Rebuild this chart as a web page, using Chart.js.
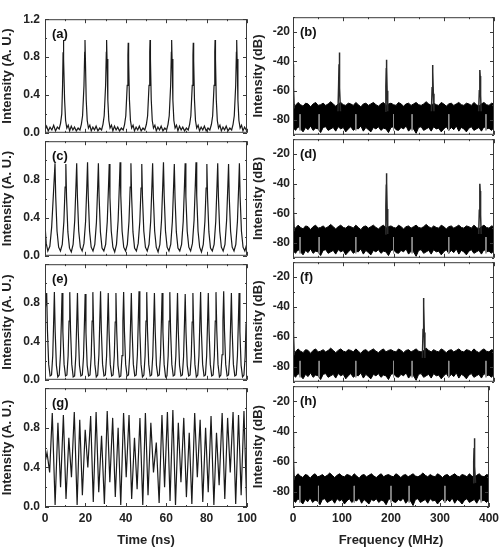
<!DOCTYPE html>
<html>
<head>
<meta charset="utf-8">
<script src="https://cdn.jsdelivr.net/npm/chart.js@4.4.1/dist/chart.umd.min.js"></script>
<style>
  html, body { margin: 0; padding: 0; background: #fff; }
  body { width: 503px; height: 550px; position: relative; overflow: hidden; }
  canvas.panel { position: absolute; }
</style>
</head>
<body>
<script>
// ---- time traces, [time (ns), intensity (a.u.)] ----
const aPulses = [
  [0,0.03],[0.8,0.07],[1.6,0.02],[2.5,0.06],[3.4,0.03],[4.3,0.08],[5.2,0.02],[6.1,0.06],[7.0,0.04],[7.7,0.1],[8.3,0.2],[8.7,0.5],[8.95,0.85],[9.1,0.98],[9.3,0.78],[9.7,0.35],[10.2,0.13],
  [10.8,0.05],[11.5,0.08],[12.2,0.02],[13.0,0.07],[13.8,0.03],[14.6,0.06],[15.5,0.02],[16.4,0.05],[17.3,0.03],[18.0,0.09],[18.6,0.18],[19.3,0.5],[19.65,0.85],[19.8,0.98],[20.0,0.78],[20.4,0.35],[20.9,0.13],
  [21.5,0.05],[22.2,0.08],[22.9,0.02],[23.7,0.06],[24.5,0.03],[25.3,0.07],[26.2,0.02],[27.1,0.05],[28.0,0.03],[28.7,0.09],[29.3,0.18],[30.0,0.5],[30.35,0.85],[30.5,0.98],[30.7,0.78],[31.1,0.35],[31.6,0.13],
  [32.2,0.05],[32.9,0.08],[33.6,0.02],[34.4,0.07],[35.2,0.03],[36.0,0.06],[36.9,0.02],[37.8,0.05],[38.7,0.03],[39.4,0.09],[40.0,0.18],[40.7,0.5],[41.05,0.82],[41.2,0.95],[41.4,0.76],[41.8,0.35],[42.3,0.13],
  [42.9,0.05],[43.6,0.08],[44.3,0.02],[45.1,0.06],[45.9,0.03],[46.7,0.07],[47.6,0.02],[48.5,0.05],[49.4,0.03],[50.2,0.09],[50.8,0.18],[51.5,0.5],[51.85,0.85],[52.0,0.98],[52.2,0.78],[52.6,0.35],[53.1,0.13],
  [53.7,0.05],[54.4,0.08],[55.1,0.02],[55.9,0.06],[56.7,0.03],[57.5,0.07],[58.4,0.02],[59.3,0.05],[60.2,0.03],[60.9,0.09],[61.5,0.18],[62.2,0.5],[62.55,0.85],[62.7,0.98],[62.9,0.78],[63.3,0.35],[63.8,0.13],
  [64.4,0.05],[65.1,0.08],[65.8,0.02],[66.6,0.07],[67.4,0.03],[68.2,0.06],[69.1,0.02],[70.0,0.05],[70.9,0.03],[71.6,0.09],[72.2,0.18],[72.9,0.5],[73.25,0.82],[73.4,0.95],[73.6,0.76],[74.0,0.35],[74.5,0.13],
  [75.1,0.05],[75.8,0.08],[76.5,0.02],[77.3,0.06],[78.1,0.03],[78.9,0.07],[79.8,0.02],[80.7,0.05],[81.6,0.03],[82.4,0.09],[83.0,0.18],[83.7,0.5],[84.05,0.85],[84.2,0.98],[84.4,0.78],[84.8,0.35],[85.3,0.13],
  [85.9,0.05],[86.6,0.08],[87.3,0.02],[88.1,0.06],[88.9,0.03],[89.7,0.07],[90.6,0.02],[91.5,0.05],[92.4,0.03],[93.1,0.09],[93.7,0.18],[94.4,0.5],[94.75,0.85],[94.9,0.98],[95.1,0.78],[95.5,0.35],[96.0,0.13],
  [96.6,0.05],[97.3,0.08],[98.0,0.02],[98.8,0.06],[99.6,0.03],[100,0.05]
];

const cPulses = [
  [0,0.33],[0.6,0.13],[1.4,0.05],[2.4,0.1],[3.3,0.3],[4.2,0.66],[4.95,0.97],
  [5.30,0.62],[5.95,0.26],[6.75,0.09],[7.65,0.05],[8.55,0.12],[9.35,0.36],[9.95,0.72],[10.32,0.96],
  [10.67,0.61],[11.32,0.25],[12.12,0.08],[13.02,0.04],[13.92,0.12],[14.72,0.37],[15.32,0.73],[15.69,0.97],
  [16.04,0.62],[16.69,0.26],[17.49,0.09],[18.39,0.05],[19.29,0.13],[20.09,0.36],[20.69,0.72],[21.06,0.98],
  [21.41,0.63],[22.06,0.26],[22.86,0.09],[23.76,0.05],[24.66,0.12],[25.46,0.35],[26.06,0.71],[26.43,0.97],
  [26.78,0.62],[27.43,0.25],[28.23,0.08],[29.13,0.05],[30.03,0.12],[30.83,0.36],[31.43,0.72],[31.80,0.96],
  [32.15,0.61],[32.80,0.26],[33.60,0.09],[34.50,0.04],[35.40,0.12],[36.20,0.37],[36.80,0.73],[37.17,0.98],
  [37.52,0.63],[38.17,0.26],[38.97,0.09],[39.87,0.05],[40.77,0.12],[41.57,0.36],[42.17,0.72],[42.54,0.97],
  [42.89,0.62],[43.54,0.25],[44.34,0.08],[45.24,0.05],[46.14,0.13],[46.94,0.36],[47.54,0.71],[47.91,0.96],
  [48.26,0.61],[48.91,0.26],[49.71,0.09],[50.61,0.05],[51.51,0.12],[52.31,0.36],[52.91,0.72],[53.28,0.97],
  [53.63,0.62],[54.28,0.26],[55.08,0.09],[55.98,0.04],[56.88,0.12],[57.68,0.37],[58.28,0.73],[58.65,0.98],
  [59.00,0.63],[59.65,0.26],[60.45,0.09],[61.35,0.05],[62.25,0.12],[63.05,0.36],[63.65,0.72],[64.02,0.96],
  [64.37,0.61],[65.02,0.25],[65.82,0.08],[66.72,0.05],[67.62,0.12],[68.42,0.36],[69.02,0.72],[69.39,0.97],
  [69.74,0.62],[70.39,0.26],[71.19,0.09],[72.09,0.05],[72.99,0.13],[73.79,0.37],[74.39,0.73],[74.76,0.98],
  [75.11,0.63],[75.76,0.26],[76.56,0.09],[77.46,0.04],[78.36,0.12],[79.16,0.36],[79.76,0.71],[80.13,0.96],
  [80.48,0.61],[81.13,0.25],[81.93,0.08],[82.83,0.05],[83.73,0.12],[84.53,0.36],[85.13,0.72],[85.50,0.97],
  [85.85,0.62],[86.50,0.26],[87.30,0.09],[88.20,0.05],[89.10,0.12],[89.90,0.37],[90.50,0.72],[90.87,0.96],
  [91.22,0.61],[91.87,0.26],[92.67,0.09],[93.57,0.05],[94.47,0.12],[95.27,0.36],[95.87,0.72],[96.24,0.97],
  [96.59,0.62],[97.24,0.26],[98.04,0.09],[98.94,0.05],[99.84,0.12],[100,0.14]
];

const ePulses = [
  [0,0.7],[0.83,0.9],
  [1.23,0.5],[1.83,0.16],[2.53,0.04],[3.23,0.05],[3.83,0.25],[4.28,0.6],[4.64,0.91],
  [5.04,0.5],[5.64,0.15],[6.34,0.03],[7.04,0.05],[7.64,0.26],[8.09,0.6],[8.45,0.9],
  [8.85,0.5],[9.45,0.16],[10.15,0.04],[10.85,0.05],[11.45,0.25],[11.90,0.61],[12.26,0.91],
  [12.66,0.51],[13.26,0.16],[13.96,0.03],[14.66,0.04],[15.26,0.25],[15.71,0.6],[16.07,0.9],
  [16.47,0.5],[17.07,0.15],[17.77,0.04],[18.47,0.05],[19.07,0.24],[19.52,0.59],[19.88,0.89],
  [20.28,0.49],[20.88,0.15],[21.58,0.04],[22.28,0.05],[22.88,0.25],[23.33,0.61],[23.69,0.91],
  [24.09,0.51],[24.69,0.16],[25.39,0.03],[26.09,0.05],[26.69,0.26],[27.14,0.62],[27.50,0.92],
  [27.90,0.51],[28.50,0.16],[29.20,0.04],[29.90,0.05],[30.50,0.25],[30.95,0.6],[31.31,0.9],
  [31.71,0.5],[32.31,0.16],[33.01,0.04],[33.71,0.05],[34.31,0.25],[34.76,0.6],[35.12,0.9],
  [35.52,0.5],[36.12,0.15],[36.82,0.03],[37.52,0.04],[38.12,0.25],[38.57,0.61],[38.93,0.91],
  [39.33,0.5],[39.93,0.16],[40.63,0.04],[41.33,0.05],[41.93,0.25],[42.38,0.6],[42.74,0.9],
  [43.14,0.5],[43.74,0.16],[44.44,0.04],[45.14,0.05],[45.74,0.26],[46.19,0.62],[46.55,0.92],
  [46.95,0.51],[47.55,0.16],[48.25,0.03],[48.95,0.05],[49.55,0.25],[50.00,0.61],[50.36,0.91],
  [50.76,0.5],[51.36,0.16],[52.06,0.04],[52.76,0.05],[53.36,0.25],[53.81,0.6],[54.17,0.9],
  [54.57,0.5],[55.17,0.15],[55.87,0.04],[56.57,0.05],[57.17,0.25],[57.62,0.6],[57.98,0.9],
  [58.38,0.5],[58.98,0.16],[59.68,0.03],[60.38,0.04],[60.98,0.25],[61.43,0.61],[61.79,0.91],
  [62.19,0.5],[62.79,0.16],[63.49,0.04],[64.19,0.05],[64.79,0.25],[65.24,0.6],[65.60,0.9],
  [66.00,0.5],[66.60,0.15],[67.30,0.04],[68.00,0.05],[68.60,0.24],[69.05,0.59],[69.41,0.89],
  [69.81,0.49],[70.41,0.15],[71.11,0.04],[71.81,0.05],[72.41,0.25],[72.86,0.6],[73.22,0.9],
  [73.62,0.5],[74.22,0.16],[74.92,0.03],[75.62,0.05],[76.22,0.25],[76.67,0.61],[77.03,0.91],
  [77.43,0.5],[78.03,0.16],[78.73,0.04],[79.43,0.05],[80.03,0.25],[80.48,0.6],[80.84,0.9],
  [81.24,0.5],[81.84,0.16],[82.54,0.04],[83.24,0.05],[83.84,0.25],[84.29,0.61],[84.65,0.91],
  [85.05,0.51],[85.65,0.16],[86.35,0.03],[87.05,0.05],[87.65,0.26],[88.10,0.62],[88.46,0.92],
  [88.86,0.51],[89.46,0.16],[90.16,0.04],[90.86,0.05],[91.46,0.25],[91.91,0.6],[92.27,0.9],
  [92.67,0.5],[93.27,0.16],[93.97,0.04],[94.67,0.05],[95.27,0.25],[95.72,0.6],[96.08,0.9],
  [96.48,0.5],[97.08,0.15],[97.78,0.03],[98.48,0.05],[99.08,0.24],[99.53,0.58],[99.89,0.88],[100,0.85]
];

// irregular oscillation: alternating peaks and troughs
const gPulses = [
  [0,0.45],[1.0,0.55],[2.3,0.35],[3.6,0.95],[5.0,0.02],[6.4,0.85],[7.7,0.2],[9.1,0.93],[10.4,0.08],
  [11.8,0.7],[13.1,0.3],[14.5,0.96],[15.9,0.02],[17.2,0.88],[18.5,0.12],[19.9,0.78],[21.2,0.4],
  [22.6,0.92],[23.9,0.05],[25.3,0.96],[26.6,0.15],[28.0,0.72],[29.4,0.03],[30.8,0.97],[32.1,0.25],
  [33.5,0.9],[34.8,0.1],[36.2,0.8],[37.5,0.02],[38.9,0.95],[40.2,0.3],[41.6,0.93],[42.9,0.08],
  [44.3,0.7],[45.6,0.18],[47.0,0.9],[48.4,0.02],[49.7,0.95],[51.0,0.12],[52.4,0.85],[53.7,0.35],
  [55.1,0.65],[56.5,0.04],[57.9,0.93],[59.2,0.2],[60.6,0.96],[61.9,0.06],[63.3,0.98],[64.6,0.02],
  [66.0,0.85],[67.3,0.25],[68.7,0.9],[70.0,0.1],[71.4,0.75],[72.7,0.03],[74.1,0.95],[75.4,0.3],
  [76.8,0.88],[78.1,0.05],[79.5,0.8],[80.8,0.15],[82.2,0.92],[83.6,0.02],[84.9,0.75],[86.2,0.22],
  [87.7,0.95],[89.0,0.08],[90.4,0.9],[91.7,0.35],[93.1,0.96],[94.4,0.03],[95.8,0.93],[97.1,0.12],
  [98.5,0.97],[99.8,0.05],[100,0.1]
];

// ---- RF spectra, dB ----
// noise floor envelope, 0..400 MHz in 5 MHz steps
const noiseFloorTop = [
  -69, -70, -68, -69.5, -70.5, -68.5, -69, -71, -69, -68,
  -70, -69.5, -68.5, -70, -69, -67.5, -69, -70.5, -69, -68,
  -69.5, -70, -68.5, -69, -70, -68, -69.5, -71, -69, -68.5,
  -70, -69, -68, -69.5, -70.5, -69, -68, -70, -69, -68.5,
  -69.5, -70, -68, -69, -70.5, -69, -68.5, -70, -69, -68,
  -69.5, -70, -69, -67.5, -69, -70, -68.5, -69.5, -70, -68,
  -69, -70.5, -69, -68.5, -70, -69, -68, -69.5, -70, -68.5,
  -69, -70, -68, -69.5, -70.5, -69, -68, -69.5, -70, -68.5,
  -69
];
const noiseFloorBottom = [
  -85, -87, -84.5, -86, -88, -85, -86.5, -84, -87, -85.5,
  -86, -88.5, -85, -84.5, -87, -86, -85, -87.5, -84.5, -86,
  -85, -88, -86, -84.5, -87, -85.5, -86, -84, -87.5, -85,
  -86.5, -88, -85, -86, -84.5, -87, -85.5, -86, -88.5, -85,
  -84.5, -86.5, -87, -85, -86, -84, -87.5, -85.5, -86, -89,
  -85, -84.5, -87, -86, -85, -87.5, -84.5, -86, -85.5, -88,
  -86, -84.5, -87, -85, -86.5, -84, -87.5, -85, -86, -88,
  -85.5, -84.5, -87, -86, -85, -87.5, -84.5, -86, -85.5, -87,
  -85
];
const spurFreqs = [14, 52, 125, 200, 237, 310, 384];
const spurTop = -76;
const spurBottom = -87;

// spectral lines (each a short list of [MHz, dB])
const bLines = [
  [[0,-72],[0.4,-42],[1.5,-58],[2.5,-72]],
  [[89.5,-74],[90.8,-56],[91.6,-42],[92,-34],[92.5,-40],[93.3,-58],[94.5,-74]],
  [[183.5,-74],[184.8,-57],[185.6,-45],[186,-39],[186.5,-44],[187.3,-60],[188.5,-74]],
  [[275.5,-74],[276.8,-58],[277.6,-48],[278,-42.5],[278.5,-47],[279.3,-62],[280.5,-74]],
  [[369.5,-74],[370.8,-60],[371.6,-51],[372,-46],[372.5,-50],[373.3,-63],[374.5,-74]]
];
const dLines = [
  [[0,-72],[0.4,-41],[1.5,-58],[2.5,-72]],
  [[183.5,-74],[184.8,-55],[185.6,-41],[186,-33],[186.5,-39],[187.3,-57],[188.5,-74]],
  [[369.5,-74],[370.8,-58],[371.6,-47],[372,-40],[372.5,-45],[373.3,-61],[374.5,-74]]
];
const fLines = [
  [[0,-72],[0.4,-41],[1.5,-58],[2.5,-72]],
  [[257.5,-74],[258.8,-55],[259.6,-41],[260,-34],[260.5,-39],[261.3,-57],[262.5,-74]]
];
const hLines = [
  [[0,-72],[0.4,-41],[1.5,-58],[2.5,-72]],
  [[367.5,-74],[368.8,-60],[369.6,-51],[370,-44.5],[370.5,-50],[371.3,-63],[372.5,-74]]
];

const panelLabels = ["(a)", "(b)", "(c)", "(d)", "(e)", "(f)", "(g)", "(h)"];

// ---- layout ----
const ROW_TOP = [15, 137, 260, 384];
const ROW_BOTTOM = [137, 260, 384, 507];
const FONT = "'Liberation Sans', Arial, Helvetica, sans-serif";
const INK = "#1a1a1a";

function isMultiple(v, step) {
  const r = v / step;
  return Math.abs(r - Math.round(r)) < 1e-6;
}

function toXY(pairs) {
  return pairs.map(([x, y]) => ({ x, y }));
}

function traceDataset(pairs) {
  return { data: toXY(pairs), borderColor: INK, borderWidth: 1.2, pointRadius: 0, fill: false, order: 0 };
}

function spectrumDatasets(lines) {
  const step = 400 / (noiseFloorTop.length - 1);
  const sets = [
    {
      data: noiseFloorTop.map((y, i) => ({ x: i * step, y })),
      borderColor: "#000", borderWidth: 1, pointRadius: 0, fill: false, order: 3,
    },
    {
      data: noiseFloorBottom.map((y, i) => ({ x: i * step, y })),
      borderColor: "#000", borderWidth: 1, pointRadius: 0,
      fill: "-1", backgroundColor: "#000", order: 3,
    },
    {
      data: spurFreqs.flatMap((f) => [{ x: f, y: spurTop }, { x: f, y: spurBottom }, { x: f + 0.01, y: null }]),
      borderColor: "#8f8f8f", borderWidth: 1, pointRadius: 0, fill: false, order: 2,
    },
  ];
  lines.forEach((line) => {
    sets.push({ data: toXY(line), borderColor: "#2a2a2a", borderWidth: 1.5, pointRadius: 0, fill: false, order: 1 });
  });
  return sets;
}

// box frame, inward ticks on all four sides, panel letter
const panelFrame = {
  id: "panelFrame",
  afterDatasetsDraw(chart, args, opts) {
    const { ctx, chartArea: a, scales: { x, y } } = chart;
    ctx.save();
    ctx.strokeStyle = "#3a3a3a";
    ctx.lineWidth = 1;
    ctx.strokeRect(a.left + 0.5, a.top + 0.5, a.right - a.left - 1, a.bottom - a.top - 1);
    ctx.beginPath();
    x.ticks.forEach((t) => {
      const px = Math.round(x.getPixelForValue(t.value)) + 0.5;
      const len = isMultiple(t.value, opts.majorX) ? 4 : 2;
      ctx.moveTo(px, a.bottom); ctx.lineTo(px, a.bottom - len);
      ctx.moveTo(px, a.top); ctx.lineTo(px, a.top + len);
    });
    y.ticks.forEach((t) => {
      const py = Math.round(y.getPixelForValue(t.value)) + 0.5;
      const len = isMultiple(t.value, opts.majorY) ? 4 : 2;
      ctx.moveTo(a.left, py); ctx.lineTo(a.left + len, py);
      ctx.moveTo(a.right, py); ctx.lineTo(a.right - len, py);
    });
    ctx.stroke();
    ctx.font = "bold 13px " + FONT;
    ctx.fillStyle = "#111";
    ctx.textBaseline = "middle";
    ctx.fillText(opts.label, a.left + 7, a.top + 15);
    ctx.restore();
  },
};

function buildPanel(cfg) {
  const canvas = document.createElement("canvas");
  canvas.className = "panel";
  canvas.width = cfg.width;
  canvas.height = cfg.height;
  canvas.style.left = cfg.left + "px";
  canvas.style.top = cfg.top + "px";
  document.body.appendChild(canvas);

  const tickFont = { family: FONT, size: 12, weight: "bold" };
  const titleFont = { family: FONT, size: 13, weight: "bold" };

  return new Chart(canvas, {
    type: "line",
    data: { datasets: cfg.datasets },
    options: {
      responsive: false,
      animation: false,
      events: [],
      layout: { autoPadding: false, padding: cfg.padding },
      plugins: {
        legend: { display: false },
        tooltip: { enabled: false },
        panelFrame: { label: cfg.label, majorX: cfg.majorX, majorY: cfg.majorY },
      },
      scales: {
        x: {
          type: "linear",
          min: cfg.xMin,
          max: cfg.xMax,
          grid: { display: false, drawTicks: false },
          border: { display: false },
          ticks: {
            display: cfg.showX,
            stepSize: cfg.xStep,
            autoSkip: false,
            maxRotation: 0,
            padding: 4,
            color: "#222",
            font: tickFont,
            callback: (v) => (isMultiple(v, cfg.majorX) ? String(v) : ""),
          },
          title: {
            display: cfg.showX,
            text: cfg.xTitle,
            color: "#222",
            font: titleFont,
            padding: { top: 0, bottom: 2 },
          },
          afterFit: (s) => { s.height = cfg.xHeight; },
        },
        y: {
          min: cfg.yMin,
          max: cfg.yMax,
          grid: { display: false, drawTicks: false },
          border: { display: false },
          ticks: {
            stepSize: cfg.yStep,
            autoSkip: false,
            padding: cfg.yTickPad,
            color: "#222",
            font: tickFont,
            callback: cfg.yLabel,
          },
          title: {
            display: true,
            text: cfg.yTitle,
            color: "#222",
            font: titleFont,
            padding: { top: cfg.yTitlePad, bottom: 0 },
          },
          afterFit: (s) => { s.width = cfg.yWidth; },
        },
      },
    },
    plugins: [panelFrame],
  });
}

const timeTraces = [aPulses, cPulses, ePulses, gPulses];
const spectra = [bLines, dLines, fLines, hLines];

for (let row = 0; row < 4; row++) {
  const last = row === 3;
  const top = ROW_TOP[row] - 8;
  const height = last ? 550 - top : ROW_BOTTOM[row] - ROW_TOP[row] + 16;
  const padBottom = last ? 0 : 8;
  const xHeight = last ? 43 : 0;

  buildPanel({
    left: 0, top, width: 262, height,
    padding: { left: 0, right: 15, top: 8, bottom: padBottom },
    datasets: [traceDataset(timeTraces[row])],
    label: panelLabels[row * 2],
    xMin: 0, xMax: 100, xStep: 10, majorX: 20,
    yMin: 0, yMax: 1.2, yStep: 0.2, majorY: 0.4,
    showX: last, xTitle: "Time (ns)", xHeight,
    yTitle: "Intensity (A. U.)", yWidth: 45, yTickPad: 5, yTitlePad: 0,
    yLabel: (v) => {
      if (!isMultiple(v, 0.4)) return "";
      if (row > 0 && v > 1.1) return "";
      return v.toFixed(1);
    },
  });

  buildPanel({
    left: 250, top, width: 253, height,
    padding: { left: 0, right: 9, top: 8, bottom: padBottom },
    datasets: spectrumDatasets(spectra[row]),
    label: panelLabels[row * 2 + 1],
    xMin: 0, xMax: 400, xStep: 50, majorX: 100,
    yMin: -90, yMax: -10, yStep: 10, majorY: 20,
    showX: last, xTitle: "Frequency (MHz)", xHeight,
    yTitle: "Intensity (dB)", yWidth: 43, yTickPad: 3, yTitlePad: 1,
    yLabel: (v) => (isMultiple(v, 20) && v > -90 && v < -10 ? String(v) : ""),
  });
}
</script>
</body>
</html>
